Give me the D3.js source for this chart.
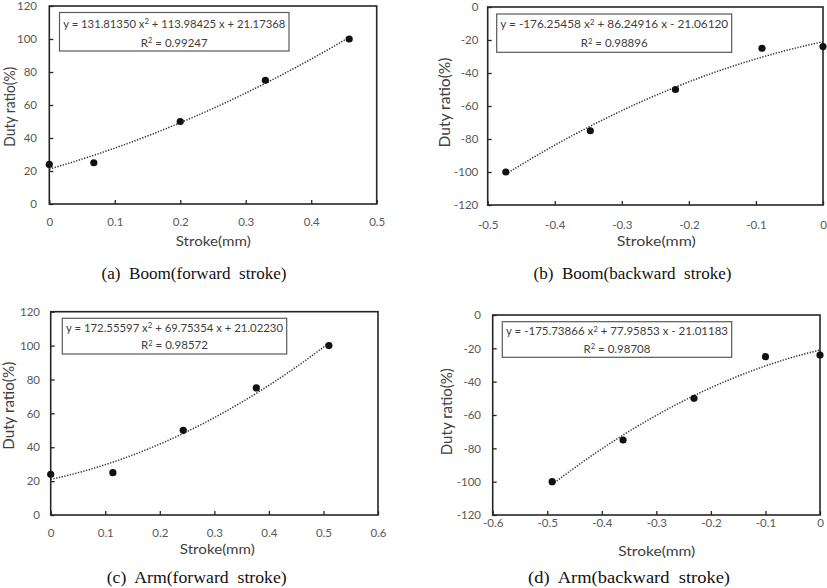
<!DOCTYPE html>
<html><head><meta charset="utf-8">
<script src="https://cdn.jsdelivr.net/npm/d3@7"></script>
<style>body{margin:0;background:#fff} svg{display:block} text{white-space:pre}</style>
</head><body><svg id="c" width="827" height="588"></svg>
<script>
// ---- data ----
const strokeA = [0, 0.068, 0.2, 0.33, 0.458];
const dutyA   = [24, 25, 50, 75, 100];
const strokeB = [-0.473, -0.347, -0.22, -0.091, 0];
const dutyB   = [-100, -75, -50, -25, -24];
const strokeC = [0, 0.114, 0.243, 0.377, 0.51];
const dutyC   = [24, 25, 50, 75, 100];
const strokeD = [-0.491, -0.361, -0.231, -0.1, 0];
const dutyD   = [-100, -75, -50, -25, -24];

const coefA = [131.81350, 113.98425, 21.17368];
const coefB = [-176.25458, 86.24916, -21.06120];
const coefC = [172.55597, 69.75354, 21.02230];
const coefD = [-175.73866, 77.95853, -21.01183];
const r2A = "0.99247", r2B = "0.98896", r2C = "0.98572", r2D = "0.98708";

const xTicksA = ["0","0.1","0.2","0.3","0.4","0.5"];
const xTicksB = ["-0.5","-0.4","-0.3","-0.2","-0.1","0"];
const xTicksC = ["0","0.1","0.2","0.3","0.4","0.5","0.6"];
const xTicksD = ["-0.6","-0.5","-0.4","-0.3","-0.2","-0.1","0"];
const yTicksPos = ["0","20","40","60","80","100","120"];
const yTicksNeg = ["-120","-100","-80","-60","-40","-20","0"];

const captions = ["(a)  Boom(forward  stroke)", "(b)  Boom(backward  stroke)",
                  "(c)  Arm(forward  stroke)", "(d)  Arm(backward  stroke)"];
const xTitle = "Stroke(mm)", yTitle = "Duty ratio(%)";

// ---- layout (positions only) ----
const layout = [
  {l:49.3,r:376.7,t:6,b:204, xl:18, box:[59.5,12.5,289,51], e1:24, e2:42.5, ew:222, ytx:10, yty:106.7, ytw:80, xtx:213.2, xty:241, xtw:75, capx:194, capy:273, capw:185, ylr:37},
  {l:487.7,r:823,t:7,b:205, xl:20, box:[496.7,14,731.7,52.3], e1:24.5, e2:43, ew:228, ytx:445, yty:102.5, ytw:90, xtx:656.3, xty:241, xtw:79, capx:632.5, capy:273, capw:198, ylr:478.3},
  {l:50.7,r:378,t:311.7,b:515, xl:17.7, box:[62.3,318.3,286.7,354], e1:327.8, e2:345.3, ew:217, ytx:9, yty:405.8, ytw:88, xtx:217.3, xty:549, xtw:75, capx:196.7, capy:577, capw:180, ylr:40},
  {l:492.7,r:820,t:315,b:515, xl:8.3, box:[502.3,321.7,731.7,357.3], e1:331.2, e2:348.7, ew:222, ytx:446.7, yty:411.7, ytw:87, xtx:656.7, xty:551, xtw:77, capx:629, capy:577, capw:202, ylr:481}
];

const panels = [
  {xs:strokeA, ys:dutyA, coef:coefA, r2:r2A, xt:xTicksA, yt:yTicksPos, cap:captions[0]},
  {xs:strokeB, ys:dutyB, coef:coefB, r2:r2B, xt:xTicksB, yt:yTicksNeg, cap:captions[1]},
  {xs:strokeC, ys:dutyC, coef:coefC, r2:r2C, xt:xTicksC, yt:yTicksPos, cap:captions[2]},
  {xs:strokeD, ys:dutyD, coef:coefD, r2:r2D, xt:xTicksD, yt:yTicksNeg, cap:captions[3]}
];

const svg = d3.select("#c");
const sans = "Lato, 'Open Sans', sans-serif";

panels.forEach((p, i) => {
  const L = layout[i];
  const xv = p.xt.map(Number), yv = p.yt.map(Number);
  const x = d3.scaleLinear().domain(d3.extent(xv)).range([L.l, L.r]);
  const y = d3.scaleLinear().domain(d3.extent(yv)).range([L.b, L.t]);
  const g = svg.append("g");

  const xa = g.append("g").attr("transform", `translate(0,${L.b})`)
    .call(d3.axisBottom(x).tickValues(xv).tickSizeInner(-4).tickSizeOuter(0)
      .tickPadding(L.xl + 4).tickFormat((d, k) => p.xt[k]));
  xa.select(".domain").remove();
  xa.selectAll("line").attr("stroke", "#262626").attr("stroke-width", 1.3);
  xa.selectAll("text").attr("fill", "#595959").attr("font-family", sans).attr("font-size", 11.5)
    .attr("dy", "0.35em").attr("y", L.xl);

  const ya = g.append("g").attr("transform", `translate(${L.l},0)`)
    .call(d3.axisLeft(y).tickValues(yv).tickSizeInner(-4).tickSizeOuter(0)
      .tickFormat((d, k) => p.yt[k]));
  ya.select(".domain").remove();
  ya.selectAll("line").attr("stroke", "#262626").attr("stroke-width", 1.3);
  ya.selectAll("text").attr("fill", "#595959").attr("font-family", sans).attr("font-size", 11.5)
    .attr("x", L.ylr - L.l);

  g.append("rect").attr("x", L.l).attr("y", L.t).attr("width", L.r - L.l).attr("height", L.b - L.t)
    .attr("fill", "none").attr("stroke", "#262626").attr("stroke-width", 1.6);

  const [a, b, c] = p.coef;
  const x0 = d3.min(p.xs), x1 = d3.max(p.xs);
  const pts = d3.range(0, 81).map(k => { const xx = x0 + (x1 - x0) * k / 80; return [xx, a*xx*xx + b*xx + c]; });
  g.append("path").datum(pts)
    .attr("d", d3.line().x(d => x(d[0])).y(d => y(d[1])))
    .attr("fill", "none").attr("stroke", "#333").attr("stroke-width", 1.5)
    .attr("stroke-dasharray", "1.3,1.5");

  g.selectAll("circle.pt").data(p.xs.map((v, k) => [v, p.ys[k]])).join("circle")
    .attr("cx", d => x(d[0])).attr("cy", d => y(d[1])).attr("r", 3.6).attr("fill", "#111");

  const [bx0, by0, bx1, by1] = L.box;
  g.append("rect").attr("x", bx0).attr("y", by0).attr("width", bx1 - bx0).attr("height", by1 - by0)
    .attr("fill", "#fff").attr("stroke", "#595959").attr("stroke-width", 1.2);
  const cx = (bx0 + bx1) / 2;
  const sg = v => v < 0 ? "-" : "+";
  const t1 = g.append("text").attr("x", cx).attr("y", L.e1).attr("dy", "0.35em").attr("text-anchor", "middle")
    .attr("font-family", sans).attr("font-size", 11).attr("fill", "#404040")
    .attr("textLength", L.ew).attr("lengthAdjust", "spacingAndGlyphs");
  t1.append("tspan").text(`y = ${a.toFixed(5)} x`);
  t1.append("tspan").attr("dy", -3.5).attr("font-size", 7.5).text("2");
  t1.append("tspan").attr("dy", 3.5).text(` ${sg(b)} ${Math.abs(b).toFixed(5)} x ${sg(c)} ${Math.abs(c).toFixed(5)}`);
  const t2 = g.append("text").attr("x", cx).attr("y", L.e2).attr("dy", "0.35em").attr("text-anchor", "middle")
    .attr("font-family", sans).attr("font-size", 11.5).attr("fill", "#404040");
  t2.append("tspan").text("R");
  t2.append("tspan").attr("dy", -3.5).attr("font-size", 7.5).text("2");
  t2.append("tspan").attr("dy", 3.5).text(` = ${p.r2}`);

  g.append("text").attr("transform", `translate(${L.ytx},${L.yty}) rotate(-90)`)
    .attr("text-anchor", "middle").attr("dy", "0.35em").attr("font-family", sans).attr("font-size", 14.5)
    .attr("fill", "#404040").attr("textLength", L.ytw).attr("lengthAdjust", "spacingAndGlyphs").text(yTitle);
  g.append("text").attr("x", L.xtx).attr("y", L.xty).attr("text-anchor", "middle").attr("dy", "0.35em")
    .attr("font-family", sans).attr("font-size", 14).attr("fill", "#404040")
    .attr("textLength", L.xtw).attr("lengthAdjust", "spacingAndGlyphs").text(xTitle);

  g.append("text").attr("x", L.capx).attr("y", L.capy).attr("text-anchor", "middle").attr("dy", "0.35em")
    .attr("font-family", "'Liberation Serif', 'Times New Roman', serif").attr("font-size", 17.5).attr("fill", "#111")
    .attr("textLength", L.capw).attr("lengthAdjust", "spacingAndGlyphs").text(p.cap);
});
</script></body></html>
